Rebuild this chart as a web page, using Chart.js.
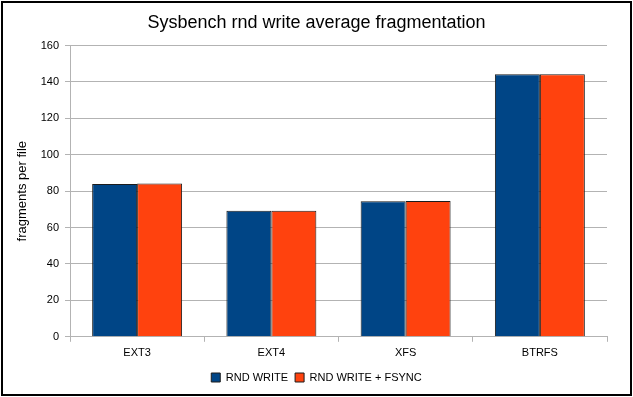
<!DOCTYPE html>
<html>
<head>
<meta charset="utf-8">
<script src="https://cdn.jsdelivr.net/npm/chart.js@4"></script>
<style>
  html, body { margin: 0; padding: 0; background: #fff; }
  #wrap { width: 633px; height: 397px; }
</style>
</head>
<body>
<div id="wrap"><canvas id="chart" width="633" height="397"></canvas></div>
<script>
// dados
const categorias = ['EXT3', 'EXT4', 'XFS', 'BTRFS'];
const rndWrite = [84, 69.2, 74.5, 144.3];
const rndWriteFsync = [84.2, 69.3, 74.6, 144.3];
const yTicks = [0, 20, 40, 60, 80, 100, 120, 140, 160];

const fonte = 'Liberation Sans, Arial, sans-serif';

// fundo branco e moldura preta
const moldura = {
  id: 'moldura',
  beforeDraw(chart) {
    const ctx = chart.ctx;
    ctx.save();
    ctx.fillStyle = '#fff';
    ctx.fillRect(0, 0, chart.width, chart.height);
    ctx.restore();
  },
  afterDraw(chart) {
    const ctx = chart.ctx;
    ctx.save();
    ctx.strokeStyle = '#000';
    ctx.lineWidth = 2;
    ctx.strokeRect(2, 2, chart.width - 4, chart.height - 4);
    ctx.restore();
  }
};

const ctx = document.getElementById('chart').getContext('2d');
new Chart(ctx, {
  type: 'bar',
  data: {
    labels: categorias,
    datasets: [
      {
        label: 'RND WRITE',
        data: rndWrite,
        backgroundColor: '#004586',
        borderColor: '#1c1c1c',
        borderWidth: 1
      },
      {
        label: 'RND WRITE + FSYNC',
        data: rndWriteFsync,
        backgroundColor: '#ff420e',
        borderColor: '#1c1c1c',
        borderWidth: 1
      }
    ]
  },
  options: {
    responsive: false,
    animation: false,
    categoryPercentage: 0.67,
    barPercentage: 1.0,
    // padding simétrico para centrar título e legenda
    layout: { padding: { left: 26, right: 26, top: 10, bottom: 4 } },
    plugins: {
      title: {
        display: true,
        text: 'Sysbench rnd write average fragmentation',
        color: '#000',
        font: { family: fonte, size: 18, weight: 'normal' },
        padding: { top: 2, bottom: 12 }
      },
      legend: {
        position: 'bottom',
        labels: {
          color: '#000',
          font: { family: fonte, size: 11 },
          boxWidth: 9,
          boxHeight: 9,
          padding: 7
        }
      },
      tooltip: { enabled: false }
    },
    scales: {
      x: {
        grid: {
          offset: true,
          drawOnChartArea: false,
          drawTicks: true,
          tickLength: 5,
          color: '#b3b3b3'
        },
        border: { color: '#b3b3b3' },
        ticks: { color: '#000', font: { family: fonte, size: 11 }, padding: 5 }
      },
      y: {
        min: 0,
        max: 160,
        afterBuildTicks: (escala) => { escala.ticks = yTicks.map(v => ({ value: v })); },
        afterFit: (escala) => { escala.width = 44; },
        grid: { color: '#b3b3b3', tickLength: 5 },
        border: { color: '#b3b3b3' },
        ticks: { color: '#000', font: { family: fonte, size: 11 }, padding: 6 },
        title: {
          display: true,
          text: 'fragments per file',
          color: '#000',
          font: { family: fonte, size: 13 },
          padding: { top: -11.8, bottom: 0 }
        }
      }
    }
  },
  plugins: [moldura]
});
</script>
</body>
</html>
